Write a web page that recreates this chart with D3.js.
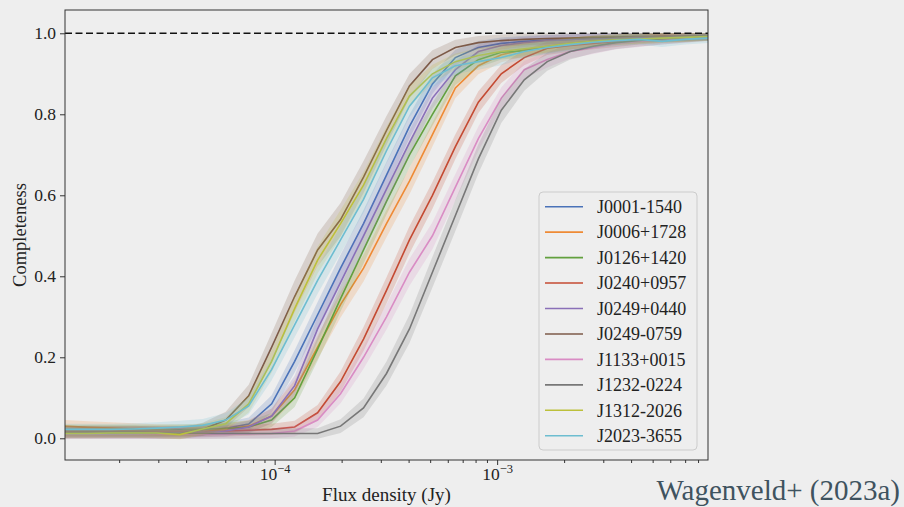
<!DOCTYPE html>
<head>
<meta charset="utf-8" />
</head>
<style>
body { margin: 0; background: #eeeeee; }
svg { display: block; }
</style>
<body>
<script src="https://cdn.jsdelivr.net/npm/d3@7"></script>
<script>
var width = 904, height = 507;
var margin = {left: 65, right: 196, top: 10, bottom: 47};
var serif = "'Liberation Serif', 'DejaVu Serif', serif";

// flux grid (Jy)
var flux = [1.142e-5, 1.448e-5, 1.837e-5, 2.330e-5, 2.954e-5, 3.748e-5, 4.753e-5, 6.028e-5, 7.645e-5, 9.696e-5,
  1.230e-4, 1.560e-4, 1.978e-4, 2.509e-4, 3.182e-4, 4.036e-4, 5.119e-4, 6.492e-4, 8.234e-4,
  1.044e-3, 1.324e-3, 1.680e-3, 2.130e-3, 2.702e-3, 3.427e-3, 4.346e-3, 5.512e-3, 6.991e-3, 8.867e-3];

var names = ["J0001-1540", "J0006+1728", "J0126+1420", "J0240+0957", "J0249+0440",
  "J0249-0759", "J1133+0015", "J1232-0224", "J1312-2026", "J2023-3655"];

var colors = ["#4a72b8", "#ee8a35", "#62a03e", "#c44a32", "#8a70b8",
  "#7d5a48", "#d98cc4", "#777777", "#bcc03a", "#6dbdd0"];

var compJ0001 = [0.015,0.015,0.015,0.015,0.016,0.017,0.02,0.025,0.035,0.085,0.19,0.305,0.42,0.53,0.65,0.77,0.875,0.94,0.965,0.975,0.98,0.983,0.985,0.987,0.989,0.99,0.991,0.992,0.993];
var compJ0006 = [0.03,0.027,0.025,0.023,0.021,0.02,0.02,0.022,0.03,0.055,0.12,0.225,0.33,0.42,0.53,0.635,0.75,0.865,0.92,0.947,0.96,0.968,0.975,0.98,0.984,0.987,0.99,0.991,0.993];
var compJ0126 = [0.02,0.02,0.02,0.02,0.02,0.021,0.022,0.024,0.028,0.045,0.10,0.22,0.345,0.465,0.585,0.70,0.80,0.895,0.935,0.953,0.957,0.966,0.974,0.98,0.985,0.988,0.99,0.991,0.993];
var compJ0240 = [0.017,0.017,0.017,0.017,0.017,0.017,0.017,0.018,0.02,0.022,0.028,0.063,0.14,0.245,0.365,0.49,0.60,0.72,0.83,0.90,0.94,0.963,0.97,0.975,0.98,0.985,0.988,0.99,0.993];
var compJ0249p = [0.012,0.012,0.012,0.012,0.012,0.013,0.015,0.018,0.028,0.055,0.13,0.27,0.385,0.50,0.615,0.73,0.84,0.91,0.955,0.97,0.977,0.982,0.985,0.987,0.989,0.99,0.992,0.993,0.995];
var compJ0249m = [0.015,0.016,0.016,0.016,0.014,0.012,0.022,0.045,0.105,0.225,0.35,0.465,0.54,0.645,0.76,0.87,0.935,0.965,0.977,0.982,0.985,0.987,0.988,0.99,0.991,0.992,0.993,0.994,0.995];
var compJ1133 = [0.01,0.01,0.01,0.01,0.01,0.01,0.01,0.011,0.011,0.012,0.018,0.045,0.11,0.20,0.30,0.41,0.50,0.62,0.74,0.84,0.91,0.935,0.955,0.965,0.975,0.98,0.985,0.988,0.992];
var compJ1232 = [0.012,0.012,0.012,0.012,0.012,0.012,0.012,0.012,0.012,0.012,0.012,0.012,0.03,0.075,0.16,0.27,0.41,0.55,0.69,0.81,0.885,0.93,0.955,0.968,0.977,0.982,0.986,0.99,0.993];
var compJ1312 = [0.012,0.012,0.013,0.013,0.013,0.009,0.023,0.036,0.085,0.19,0.32,0.44,0.53,0.625,0.74,0.845,0.90,0.93,0.945,0.955,0.962,0.968,0.975,0.98,0.984,0.986,0.988,0.99,0.992];
var compJ2023 = [0.022,0.022,0.022,0.023,0.025,0.028,0.032,0.045,0.08,0.17,0.28,0.39,0.49,0.59,0.71,0.82,0.89,0.92,0.93,0.94,0.955,0.965,0.972,0.978,0.982,0.985,0.98,0.985,0.988];

var completeness = [compJ0001, compJ0006, compJ0126, compJ0240, compJ0249p,
  compJ0249m, compJ1133, compJ1232, compJ1312, compJ2023];

// spread of the shaded band, per source
var bandScale = [0.055, 0.055, 0.055, 0.055, 0.055, 0.07, 0.055, 0.065, 0.055, 0.055];

var yTicks = [0, 0.2, 0.4, 0.6, 0.8, 1.0];
var xMajor = [1e-4, 1e-3];
var xMajorLabels = ["\u22124", "\u22123"];

var svg = d3.select("body").append("svg")
  .attr("width", width).attr("height", height)
  .style("font-family", serif);

svg.append("rect").attr("width", width).attr("height", height).attr("fill", "#eeeeee");

var x = d3.scaleLog()
  .domain([flux[0], flux[flux.length - 1]])
  .range([margin.left, width - margin.right]);
var y = d3.scaleLinear()
  .domain([-0.0536, 1.0575])
  .range([height - margin.bottom, margin.top]);

var plot = svg.append("g");

/* ------- bands + lines ------- */
var area = d3.area()
  .x(function(d) { return x(d.f); })
  .y0(function(d) { return y(d.lo); })
  .y1(function(d) { return y(d.hi); });
var line = d3.line()
  .x(function(d) { return x(d.f); })
  .y(function(d) { return y(d.c); });

completeness.forEach(function(vals, i) {
  var pts = vals.map(function(c, j) {
    var e = bandScale[i] * Math.sqrt(c * (1 - c)) + 0.006;
    return {f: flux[j], c: c, lo: c - e, hi: Math.min(c + e, 1.0)};
  });
  plot.append("path").datum(pts)
    .attr("d", area)
    .attr("fill", colors[i])
    .attr("fill-opacity", 0.2);
  plot.append("path").datum(pts)
    .attr("d", line)
    .attr("fill", "none")
    .attr("stroke", colors[i])
    .attr("stroke-width", 1.6);
});

// completeness = 1 reference
plot.append("line")
  .attr("x1", x.range()[0]).attr("x2", x.range()[1])
  .attr("y1", y(1)).attr("y2", y(1))
  .attr("stroke", "#111").attr("stroke-width", 1.6)
  .attr("stroke-dasharray", "7,3.5");

/* ------- axes ------- */
svg.append("g")
  .attr("transform", "translate(" + margin.left + ",0)")
  .call(d3.axisLeft(y).tickValues(yTicks).tickFormat(d3.format(".1f")).tickSize(5).tickPadding(4));

var minor = x.ticks().filter(function(t) { return xMajor.indexOf(t) < 0; });
svg.append("g")
  .attr("transform", "translate(0," + (height - margin.bottom) + ")")
  .call(d3.axisBottom(x).tickValues(minor).tickSize(3).tickFormat(""));
var xAxis = svg.append("g")
  .attr("transform", "translate(0," + (height - margin.bottom) + ")")
  .call(d3.axisBottom(x).tickValues(xMajor).tickSize(5).tickFormat(""));

xAxis.selectAll(".tick").each(function(d, i) {
  var t = d3.select(this).append("text")
    .attr("y", 20).attr("text-anchor", "middle");
  t.append("tspan").text("10");
  t.append("tspan").attr("dy", -7).style("font-size", "12.5px").text(xMajorLabels[i]);
});

svg.selectAll(".domain").remove();
svg.selectAll(".tick line").attr("stroke", "#333");
svg.selectAll("g").attr("font-family", null).attr("font-size", null);
svg.selectAll(".tick text")
  .attr("fill", "#222")
  .style("font-family", serif)
  .style("font-size", "17.5px");

// spines
svg.append("rect")
  .attr("x", margin.left).attr("y", margin.top)
  .attr("width", width - margin.left - margin.right)
  .attr("height", height - margin.top - margin.bottom)
  .attr("fill", "none").attr("stroke", "#333").attr("stroke-width", 1);

svg.append("text")
  .attr("transform", "translate(26," + ((margin.top + height - margin.bottom) / 2) + ") rotate(-90)")
  .attr("text-anchor", "middle").attr("fill", "#222")
  .style("font-family", serif).style("font-size", "18.5px")
  .text("Completeness");

svg.append("text")
  .attr("x", (margin.left + width - margin.right) / 2).attr("y", 501)
  .attr("text-anchor", "middle").attr("fill", "#222")
  .style("font-family", serif).style("font-size", "19px")
  .text("Flux density (Jy)");

/* ------- legend ------- */
var legend = svg.append("g");
legend.append("rect")
  .attr("x", 539).attr("y", 192).attr("width", 158).attr("height", 258)
  .attr("rx", 4).attr("fill", "#eeeeee").attr("fill-opacity", 0.8)
  .attr("stroke", "#cccccc");
var entry = legend.selectAll("g.entry").data(names).enter().append("g")
  .attr("class", "entry")
  .attr("transform", function(d, i) { return "translate(0," + (206.7 + i * 25.45) + ")"; });
entry.append("line")
  .attr("x1", 545).attr("x2", 583)
  .attr("stroke", function(d, i) { return colors[i]; })
  .attr("stroke-width", 1.6);
entry.append("text")
  .attr("x", 597).attr("dy", "0.35em").attr("fill", "#222")
  .style("font-family", serif).style("font-size", "18px")
  .text(function(d) { return d; });

svg.append("text")
  .attr("x", 900).attr("y", 500).attr("text-anchor", "end")
  .attr("fill", "#3f535f")
  .style("font-family", serif).style("font-size", "29px")
  .text("Wagenveld+ (2023a)");
</script>
</body>
